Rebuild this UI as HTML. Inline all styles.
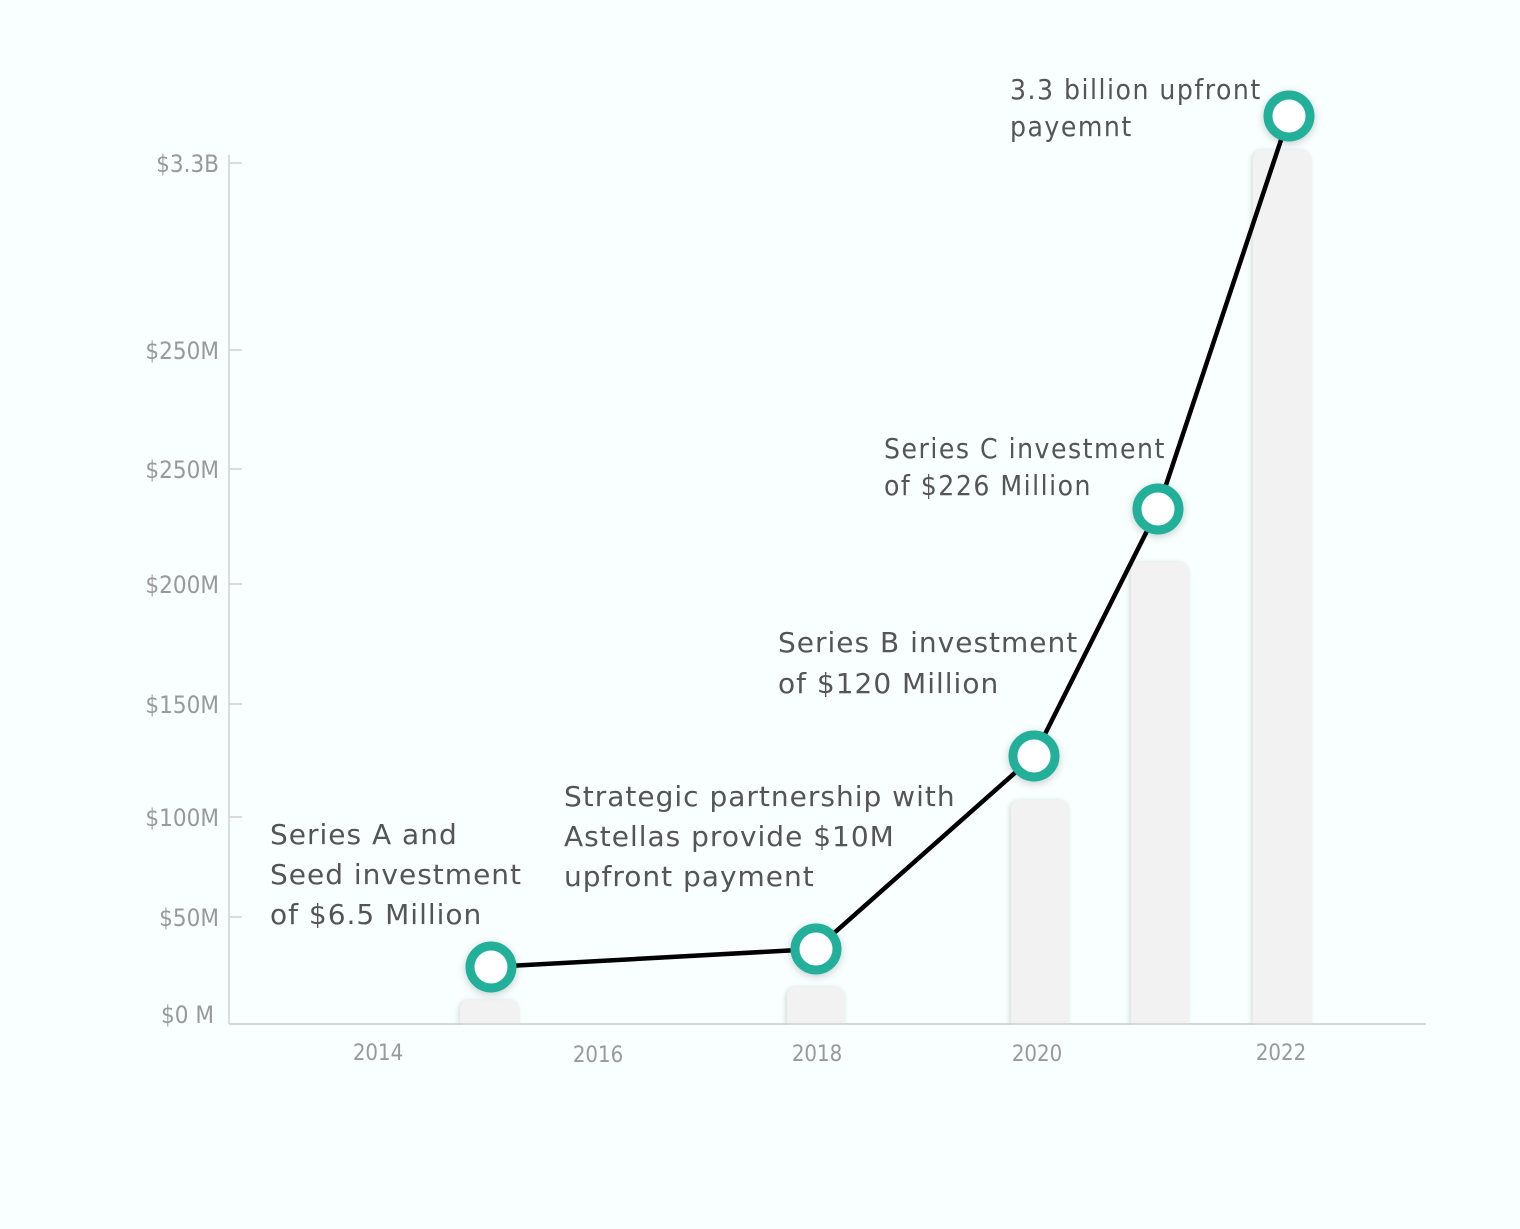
<!DOCTYPE html>
<html><head><style>
body{margin:0;background:#f8fffe;}
svg{display:block}
.y{font-family:"DejaVu Sans Condensed","Liberation Sans",sans-serif;font-size:24px;fill:#999;text-anchor:end}
.x{font-family:"DejaVu Sans Condensed","Liberation Sans",sans-serif;font-size:22px;fill:#999;text-anchor:middle}
.a{font-family:"Comic Sans MS","DejaVu Sans","Liberation Sans",sans-serif;font-size:28px;fill:#555;letter-spacing:1px}
.b{font-family:"DejaVu Sans Condensed","Liberation Sans",sans-serif;font-size:28px;fill:#555;letter-spacing:1.5px}
</style></head><body>
<svg width="1520" height="1229" viewBox="0 0 1520 1229">
<defs><filter id="s" x="-50%" y="-50%" width="200%" height="200%"><feDropShadow dx="0" dy="2" stdDeviation="4" flood-color="#000" flood-opacity="0.2"/></filter>
<filter id="bs" x="-20%" y="-5%" width="140%" height="110%"><feDropShadow dx="-2" dy="0" stdDeviation="2" flood-color="#000" flood-opacity="0.12"/></filter></defs>
<rect width="1520" height="1229" fill="#f8fffe"/>
<g stroke="#d0d0d0" stroke-width="1.5">
<line x1="229" y1="155" x2="229" y2="1024"/>
<line x1="229" y1="1024" x2="1426" y2="1024"/>
<line x1="229" y1="163" x2="242" y2="163"/><line x1="229" y1="350" x2="242" y2="350"/>
<line x1="229" y1="469" x2="242" y2="469"/><line x1="229" y1="584" x2="242" y2="584"/>
<line x1="229" y1="704" x2="242" y2="704"/><line x1="229" y1="817" x2="242" y2="817"/>
<line x1="229" y1="917" x2="242" y2="917"/>
</g>
<g class="y">
<text x="219" y="172">$3.3B</text><text x="219" y="359">$250M</text><text x="219" y="478">$250M</text>
<text x="219" y="593">$200M</text><text x="219" y="713">$150M</text><text x="219" y="826">$100M</text>
<text x="219" y="926">$50M</text><text x="214" y="1023">$0 M</text>
</g>
<g class="x">
<text x="378" y="1060">2014</text><text x="598" y="1062">2016</text><text x="817" y="1061">2018</text>
<text x="1037" y="1061">2020</text><text x="1281" y="1060">2022</text>
</g>
<g fill="#f2f2f2" filter="url(#bs)">
<rect x="460" y="1000" width="60" height="30" rx="10"/>
<rect x="787" y="987" width="59" height="43" rx="10"/>
<rect x="1011" y="800" width="59" height="230" rx="10"/>
<rect x="1131" y="562" width="59" height="468" rx="10"/>
<rect x="1253" y="150" width="59" height="880" rx="10"/>
</g>
<rect x="228" y="1025" width="1200" height="10" fill="#f8fffe"/>
<line x1="229" y1="1024" x2="1426" y2="1024" stroke="#d0d0d0" stroke-width="1.5"/>
<polyline points="491,967 816,949 1034,756 1158,509 1289,116" fill="none" stroke="#000" stroke-width="4.5"/>
<g fill="#fff" stroke="#20b09a" stroke-width="9" filter="url(#s)">
<circle cx="491" cy="967" r="21"/><circle cx="816" cy="949" r="21"/><circle cx="1034" cy="756" r="21"/>
<circle cx="1158" cy="509" r="21"/><circle cx="1289" cy="116" r="21"/>
</g>
<g class="a">
<text x="270" y="844">Series A and</text><text x="270" y="884">Seed investment</text><text x="270" y="924">of $6.5 Million</text>
<text x="564" y="806">Strategic partnership with</text><text x="564" y="846">Astellas provide $10M</text><text x="564" y="886">upfront payment</text>
<text x="778" y="652">Series B investment</text><text x="778" y="693">of $120 Million</text>
</g>
<g class="b">
<text x="884" y="458">Series C investment</text><text x="884" y="495">of $226 Million</text>
<text x="1010" y="99">3.3 billion upfront</text><text x="1010" y="136">payemnt</text>
</g>
</svg>
</body></html>
